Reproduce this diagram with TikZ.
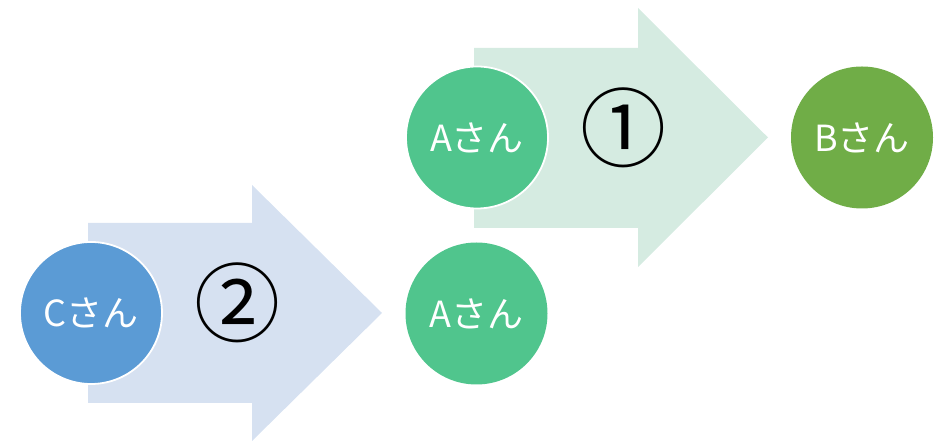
\documentclass[tikz,border=0pt]{standalone}
\usepackage{fontspec}
\setmainfont{Noto Sans CJK JP}
\definecolor{arrowgreen}{HTML}{D5EBE1}
\definecolor{arrowblue}{HTML}{D6E1F1}
\definecolor{nodeteal}{HTML}{50C58D}
\definecolor{nodegreen}{HTML}{70AD47}
\definecolor{nodeblue}{HTML}{5B9BD5}
\tikzset{
  person/.style={circle, minimum size=142pt, inner sep=0pt, draw=white, line width=1.8pt,
    text=white, font=\fontsize{36}{36}\selectfont},
  stepno/.style={font=\fontsize{86}{86}\selectfont, text=black, inner sep=0pt},
  blockarrow/.style={draw=none}
}
\begin{document}
\begin{tikzpicture}[x=1pt, y=1pt]
\useasboundingbox (0,0) rectangle (935,441);
% block arrows
\fill[arrowgreen] (474,393) -- (638,393) -- (638,433) -- (768,303.5)
  -- (638,174) -- (638,213) -- (474,213) -- cycle;
\fill[arrowblue] (88,218) -- (252,218) -- (252,256) -- (382,128)
  -- (252,0) -- (252,38) -- (88,38) -- cycle;
% step numbers
\node[stepno] (n1) at (623,313) {①};
\node[stepno] (n2) at (237,138) {②};
% people
\node[person, fill=nodeteal] (a1) at (477,303.5) {Aさん};
\node[person, fill=nodegreen, draw=none] (b) at (862,303.5) {Bさん};
\node[person, fill=nodeblue] (c) at (91,128) {Cさん};
\node[person, fill=nodeteal, draw=none] (a2) at (476.5,127.5) {Aさん};
\end{tikzpicture}
\end{document}
